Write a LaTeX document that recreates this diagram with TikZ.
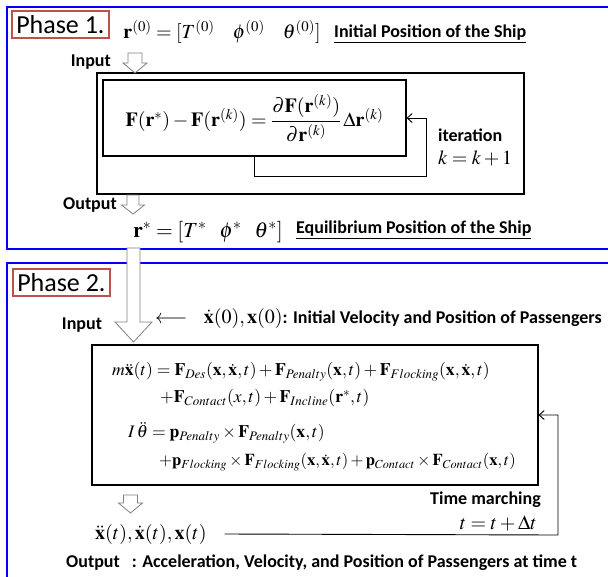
\documentclass[tikz,border=0pt]{standalone}
\usepackage{amsmath}
\usepackage{mathptmx}
\usepackage[no-math]{fontspec}
\setsansfont{Carlito}
\usepackage{tikz}
\usetikzlibrary{arrows.meta}

\definecolor{phaseblue}{RGB}{0,0,255}
\definecolor{phasered}{RGB}{192,80,77}

\tikzset{
  phaseframe/.style={draw=phaseblue,line width=2.4pt},
  phasetag/.style={draw=phasered,line width=1.8pt,anchor=north west,inner sep=0pt,
    minimum width=97pt,minimum height=27pt,font=\fontsize{26}{28}\selectfont\sffamily},
  lbl/.style={font=\fontsize{18}{20}\selectfont\sffamily\bfseries,inner sep=0pt},
  eqn/.style={font=\fontsize{20}{24}\selectfont,inner sep=0pt},
  eqs/.style={font=\fontsize{17.6}{20}\selectfont,inner sep=0pt,anchor=west},
  box/.style={draw,line width=1.1pt,inner sep=0pt},
  hollow/.style={draw=gray,fill=white,line width=0.8pt},
}

% hollow block arrow: x, top, tip, shaft half width, head half width, head length
\newcommand{\blockarrow}[6]{%
  \draw[hollow] ({#1-#4},#2) -- ({#1+#4},#2) -- ({#1+#4},{#3-#6}) -- ({#1+#5},{#3-#6})
    -- (#1,#3) -- ({#1-#5},{#3-#6}) -- ({#1-#4},{#3-#6}) -- cycle;}

\begin{document}
\begin{tikzpicture}[x=1pt,y=-1pt,>={Straight Barb[length=5pt,width=9pt]}]
 \clip (0,0) rectangle (608,576);
 \fill[white] (0,0) rectangle (608,576);
 % Phase 1
 \draw[phaseframe] (7,7) rectangle (720,249);
 \node[phasetag] (tag1) at (11,10) {Phase 1.};
 \node[eqn] (r0) at (222,32) {$\mathbf r^{(0)} = [T^{(0)}\ \ \ \phi^{(0)}\ \ \ \theta^{(0)}]$};
 \node[lbl,anchor=west] (ship0) at (334,34) {\underline{Initial Position of the Ship}};
 \node[lbl,anchor=east] (inp1) at (111,62) {Input};
 \node[box,minimum width=427pt,minimum height=121pt] (loop1) at (310.5,133.5) {};
 \node[box,minimum width=303pt,minimum height=76pt] (newton) at (254.5,118)
   [eqn] {$\mathbf F(\mathbf r^{*}) - \mathbf F(\mathbf r^{(k)}) = \dfrac{\partial \mathbf F(\mathbf r^{(k)})}{\partial \mathbf r^{(k)}}\,\Delta\mathbf r^{(k)}$};
 \coordinate (fb1) at (426,176);
 \draw[->,line width=0.9pt] (newton.south) |- (fb1) |- (newton.east);
 \node[lbl,anchor=west] (iter) at (438,135) {iteration};
 \node[eqn,anchor=west] (kinc) at (438,158) {$k = k+1$};
 \node[lbl,anchor=east] (out1) at (117,205) {Output};
 \node[eqn,font=\fontsize{21.5}{24}\selectfont] (rstar) at (208,232) {$\mathbf r^{*} = [T^{*}\ \ \phi^{*}\ \ \theta^{*}]$};
 \node[lbl,anchor=west] (ship1) at (296,230) {\underline{Equilibrium Position of the Ship}};
 \blockarrow{135}{53}{73}{7}{12}{10}
 \blockarrow{133}{195}{214}{6}{11.5}{9}
 % Phase 2
 \draw[phaseframe] (7,263) rectangle (720,720);
 \node[phasetag] (tag2) at (12,268) {Phase 2.};
 \node[lbl] (inp2) at (82,325) {Input};
 \node[anchor=west,inner sep=0pt] (init2) at (155,318)
   {\fontsize{20}{24}\selectfont$\longleftarrow\ \ \dot{\mathbf x}(0),\mathbf x(0)$%
    \fontsize{18}{20}\selectfont\sffamily\bfseries: Initial Velocity and Position of Passengers};
 \node[box,minimum width=446pt,minimum height=140pt] (motion) at (315,415) {};
 \node[eqs] (eqa) at (112,372) {$m\ddot{\mathbf x}(t) = \mathbf F_{Des}(\mathbf x,\dot{\mathbf x},t) + \mathbf F_{Penalty}(\mathbf x,t) + \mathbf F_{Flocking}(\mathbf x,\dot{\mathbf x},t)$};
 \node[eqs] (eqb) at (160,398) {$+\mathbf F_{Contact}(x,t) + \mathbf F_{Incline}(\mathbf r^{*},t)$};
 \node[eqs] (eqc) at (128,433) {$I\,\ddot\theta = \mathbf p_{Penalty}\times\mathbf F_{Penalty}(\mathbf x,t)$};
 \node[eqs,font=\fontsize{16.6}{20}\selectfont] (eqd) at (159,462) {$+\mathbf p_{Flocking}\times\mathbf F_{Flocking}(\mathbf x,\dot{\mathbf x},t) + \mathbf p_{Contact}\times\mathbf F_{Contact}(\mathbf x,t)$};
 \node[eqn,anchor=west] (states) at (95,534) {$\ddot{\mathbf x}(t),\dot{\mathbf x}(t),\mathbf x(t)$};
 \coordinate (march) at (558,535);
 \draw[->,line width=0.9pt] ([xshift=18pt]states.east) -- (march) |- (motion.east);
 \node[lbl,anchor=east] (tmarch) at (541,500) {Time marching};
 \node[eqn,anchor=east] (tinc) at (537,523) {$t = t+\Delta t$};
 \node[lbl,anchor=west] (out2) at (66,563) {Output\hspace{12pt}: Acceleration, Velocity, and Position of Passengers at time t};
 \blockarrow{130.5}{495}{513}{7}{12}{10}
 \blockarrow{133.5}{248}{342}{6.5}{18.5}{20}
\end{tikzpicture}
\end{document}
